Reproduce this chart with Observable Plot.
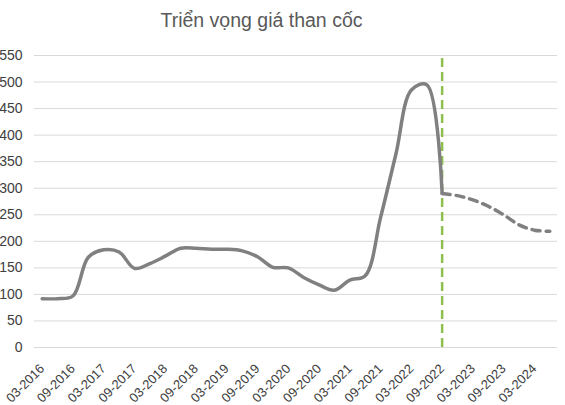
<!DOCTYPE html>
<html>
<head>
<meta charset="utf-8">
<script src="https://cdn.jsdelivr.net/npm/d3@7"></script>
<script src="https://cdn.jsdelivr.net/npm/@observablehq/plot@0.6"></script>
<style>
  html, body { margin: 0; padding: 0; background: #fff; }
  #title { width: 523px; text-align: center; font-family: "Liberation Sans", Arial, sans-serif; font-size: 19.5px; line-height: 22px; padding-top: 9px; height: 31px; color: #595959; }
  #chart svg { display: block; }
</style>
</head>
<body>
<div id="title">Triển vọng giá than cốc</div>
<div id="chart"></div>
<script>
const title = "Triển vọng giá than cốc";

const quarters = [
  "03-2016","06-2016","09-2016","12-2016",
  "03-2017","06-2017","09-2017","12-2017",
  "03-2018","06-2018","09-2018","12-2018",
  "03-2019","06-2019","09-2019","12-2019",
  "03-2020","06-2020","09-2020","12-2020",
  "03-2021","06-2021","09-2021","12-2021",
  "03-2022","06-2022","09-2022","12-2022",
  "03-2023","06-2023","09-2023","12-2023",
  "03-2024","06-2024"
];

const actualQuarters = quarters.slice(0, 27);
const actualValues = [
  92, 92, 97, 170,
  184, 180, 149, 158,
  172, 187, 187, 185,
  185, 182, 171, 151,
  150, 132, 118, 108,
  127, 135, 245, 365,
  485, 495, 290
];

const forecastQuarters = quarters.slice(26);
const forecastValues = [290, 286, 278, 266, 250, 231, 221, 219];

const xTickLabels = [
  "03-2016","09-2016","03-2017","09-2017","03-2018","09-2018",
  "03-2019","09-2019","03-2020","09-2020","03-2021","09-2021",
  "03-2022","09-2022","03-2023","09-2023","03-2024"
];
const yTicks = [0, 50, 100, 150, 200, 250, 300, 350, 400, 450, 500, 550];
const dividerQuarter = "09-2022";

// category position = index in the category list (centre of its band)
const pos = (q) => quarters.indexOf(q);
const actual = actualQuarters.map((q, i) => ({q, v: actualValues[i]}));
const forecast = forecastQuarters.map((q, i) => ({q, v: forecastValues[i]}));

const chart = Plot.plot({
  width: 565,
  height: 365,
  marginTop: 15,
  marginBottom: 58,
  marginLeft: 34,
  marginRight: 8,
  style: { fontFamily: "'Liberation Sans', Arial, sans-serif", color: "#404040", background: "#fff" },
  x: { type: "linear", domain: [-0.5, quarters.length - 0.5], axis: null },
  y: { domain: [0, 550], axis: null },
  marks: [
    Plot.gridY(yTicks, { stroke: "#d9d9d9", strokeOpacity: 1, strokeWidth: 1 }),
    Plot.axisY(yTicks, { tickSize: 0, tickPadding: 12, fontSize: 14, fill: "#404040", label: null }),
    Plot.axisX(xTickLabels.map(pos), { tickSize: 0, tickPadding: 19, tickRotate: -45, fontSize: 13, fill: "#404040", label: null, tickFormat: (i) => quarters[i] }),
    Plot.ruleX([pos(dividerQuarter)], { y1: 0, y2: 550, stroke: "#8fc04f", strokeWidth: 2.5, strokeDasharray: "9,5" }),
    Plot.line(actual, { x: (d) => pos(d.q), y: "v", curve: "catmull-rom", stroke: "#808080", strokeWidth: 3.5 }),
    Plot.line(forecast, { x: (d) => pos(d.q), y: "v", curve: "catmull-rom", stroke: "#808080", strokeWidth: 3.5, strokeDasharray: "8,6" })
  ]
});
document.getElementById("chart").appendChild(chart);
</script>
</body>
</html>
